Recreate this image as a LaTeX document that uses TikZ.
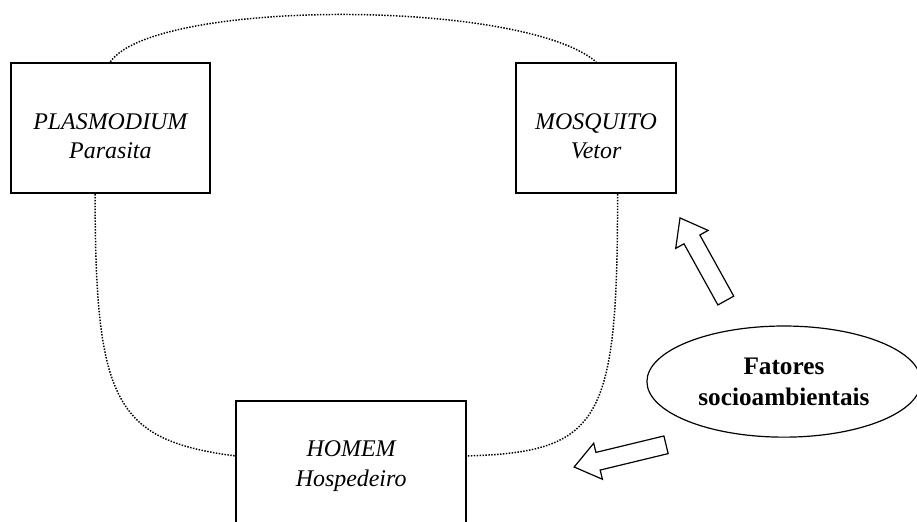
\documentclass[tikz,border=0pt]{standalone}
\usepackage{fontspec}
\setmainfont{Liberation Serif}
\usetikzlibrary{shapes.geometric}

\tikzset{
  caixa/.style={draw, rectangle, line width=1.7pt, align=center, minimum height=3.44cm, font=\fontsize{18}{22}\selectfont\itshape},
  baixo/.style={text height=46pt, text depth=0pt},
  elo/.style={line width=1.1pt, dash pattern=on 1.1pt off 1.1pt},
  seta/.style={draw, fill=white, line width=0.9pt, line join=miter},
}

\begin{document}
\begin{tikzpicture}
\useasboundingbox (0,0) rectangle (24.26,13.785);
\clip (0,0) rectangle (24.26,13.785);

\node[caixa, baixo, minimum width=5.27cm] (plasmodium) at (2.92,10.40) {PLASMODIUM\\Parasita};
\node[caixa, baixo, minimum width=4.23cm] (mosquito) at (15.77,10.40) {MOSQUITO\\Vetor};
\node[caixa, minimum width=6.09cm] (homem) at (9.29,1.455) {HOMEM\\Hospedeiro};
\node[ellipse, draw, line width=0.9pt, minimum width=7.25cm, minimum height=2.94cm, inner sep=0pt, align=center, font=\fontsize{19}{23}\selectfont\bfseries] (fatores) at (20.74,3.69) {Fatores\\socioambientais};

% ciclo de transmissao
\draw[elo] (plasmodium.north) .. controls +(1.16,1.67) and +(-1.98,1.67) .. (mosquito.north);
\draw[elo] (plasmodium.257) .. controls +(0,-5.5) and +(-3.17,0.42) .. (homem.175);
\draw[elo] (mosquito.288) .. controls +(0,-6.0) and +(3.55,0.1) .. (homem.5);

% setas dos fatores
\draw[seta, shift={(17.99,8.02)}, rotate=119] (0,0) -- (-0.65,0.49) -- (-0.65,0.24) -- (-2.5,0.24) -- (-2.5,-0.24) -- (-0.65,-0.24) -- (-0.65,-0.49) -- cycle;
\draw[seta, shift={(15.19,1.43)}, rotate=193.6] (0,0) -- (-0.65,0.49) -- (-0.65,0.24) -- (-2.5,0.24) -- (-2.5,-0.24) -- (-0.65,-0.24) -- (-0.65,-0.49) -- cycle;
\end{tikzpicture}
\end{document}
